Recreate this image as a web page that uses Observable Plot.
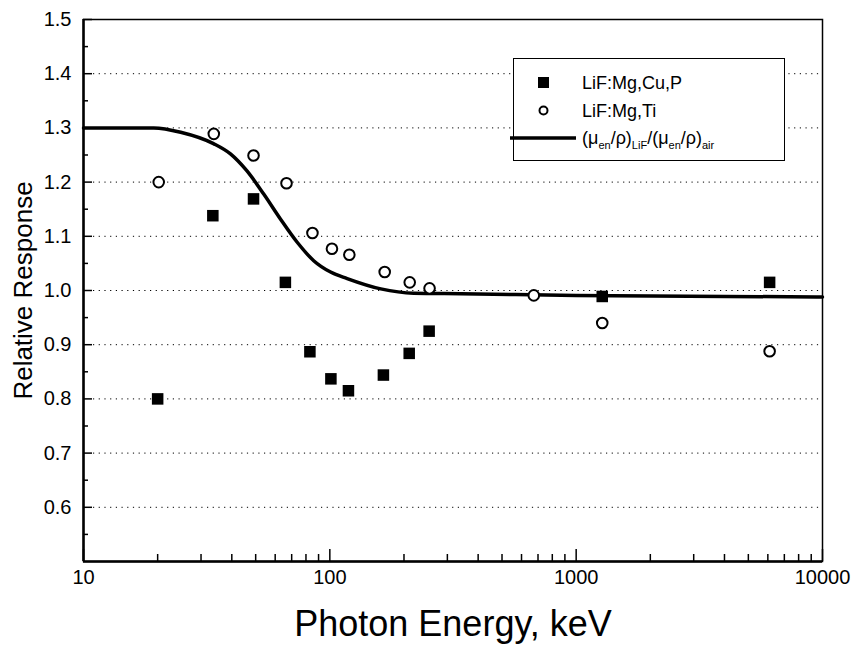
<!DOCTYPE html>
<html>
<head>
<meta charset="utf-8">
<script src="https://cdn.jsdelivr.net/npm/d3@7"></script>
<script src="https://cdn.jsdelivr.net/npm/@observablehq/plot@0.6"></script>
<style>
  body { margin: 0; background: #fff; }
  #wrap { position: relative; width: 856px; height: 655px; font-family: "Liberation Sans", Arial, sans-serif; }
  #legend { position: absolute; left: 513px; top: 58px; width: 272px; height: 103px; background: #fff; border: 1.5px solid #000; box-sizing: border-box; }
  #legend .row { position: absolute; left: 68px; font-size: 18px; line-height: 18px; color: #000; white-space: nowrap; }
  #legend svg { position: absolute; overflow: visible; }
  #legend sub { font-size: 11px; vertical-align: -5px; line-height: 0; }
</style>
</head>
<body>
<div id="wrap"></div>
<script>
// ---- data ----
const energyCuP = [20, 33.5, 49, 66, 83, 101, 119, 165, 210, 253, 1276, 6100];
const respCuP   = [0.80, 1.138, 1.169, 1.015, 0.887, 0.837, 0.815, 0.844, 0.884, 0.925, 0.989, 1.015];

const energyTi = [20.2, 33.8, 49, 66.7, 85, 102, 120, 167, 211, 254, 673, 1276, 6100];
const respTi   = [1.200, 1.289, 1.249, 1.198, 1.106, 1.077, 1.066, 1.034, 1.015, 1.004, 0.991, 0.940, 0.888];

const energyCurve = [10, 19.3, 24.8, 33.7, 39.5, 46, 53.9, 63, 73.7, 86, 100.7, 117.6, 161, 219, 340, 1000, 10000];
const respCurve   = [1.30, 1.30, 1.292, 1.271, 1.252, 1.221, 1.178, 1.132, 1.089, 1.055, 1.034, 1.022, 1.003, 0.995, 0.994, 0.991, 0.988];

const yMajorTicks = [0.6, 0.7, 0.8, 0.9, 1.0, 1.1, 1.2, 1.3, 1.4, 1.5];
const yMinorTicks = [0.55, 0.65, 0.75, 0.85, 0.95, 1.05, 1.15, 1.25, 1.35, 1.45];
const yGrid = [0.6, 0.7, 0.8, 0.9, 1.0, 1.1, 1.2, 1.3, 1.4];
const xMajorTicks = [10, 100, 1000, 10000];
const xMinorTicks = [20,30,40,50,60,70,80,90,200,300,400,500,600,700,800,900,2000,3000,4000,5000,6000,7000,8000,9000];

const xTitle = "Photon Energy, keV";
const yTitle = "Relative Response";

const cup = energyCuP.map((e, i) => ({e, r: respCuP[i]}));
const ti = energyTi.map((e, i) => ({e, r: respTi[i]}));
const curve = energyCurve.map((e, i) => ({e, r: respCurve[i]}));

const chart = Plot.plot({
  width: 856,
  height: 655,
  marginLeft: 83,
  marginRight: 34,
  marginTop: 19,
  marginBottom: 94,
  style: {fontFamily: "Liberation Sans, Arial, sans-serif", background: "#fff", color: "#000"},
  x: {type: "log", domain: [10, 10000]},
  y: {domain: [0.5, 1.5]},
  marks: [
    Plot.ruleY(yGrid, {stroke: "#000", strokeWidth: 1, strokeDasharray: "1.2,4.5", insetLeft: 10}),
    Plot.line(curve, {x: "e", y: "r", stroke: "#000", strokeWidth: 3.5, curve: "monotone-x"}),
    Plot.dot(cup, {x: "e", y: "r", symbol: "square", fill: "#000", r: 6.5}),
    Plot.dot(ti, {x: "e", y: "r", symbol: "circle", fill: "#fff", stroke: "#000", strokeWidth: 2, r: 5.3}),
    // y axis: labels + inward ticks
    Plot.axisY({ticks: yMajorTicks, tickSize: 0, tickPadding: 12, tickFormat: d3.format(".1f"), fontSize: 20, label: null}),
    Plot.axisY({ticks: yMajorTicks, tickSize: 9, dx: 9, strokeWidth: 1.5, text: null, label: null}),
    Plot.axisY({ticks: yMinorTicks, tickSize: 5, dx: 5, strokeWidth: 1.5, text: null, label: null}),
    // x axis: labels + inward ticks
    Plot.axisX({ticks: xMajorTicks, tickSize: 0, tickPadding: 8, tickFormat: d3.format("d"), fontSize: 20, label: null}),
    Plot.axisX({ticks: xMajorTicks, tickSize: 12, dy: -12, strokeWidth: 1.5, text: null, label: null}),
    Plot.axisX({ticks: xMinorTicks, tickSize: 7, dy: -7, strokeWidth: 1.5, text: null, label: null}),
    Plot.frame({stroke: "#000", strokeWidth: 1.5}),
    Plot.ruleX([10], {stroke: "#000", strokeWidth: 2.5}),
    Plot.ruleY([0.5], {stroke: "#000", strokeWidth: 2.5}),
    Plot.text([xTitle], {frameAnchor: "bottom", textAnchor: "middle", dy: 74, fontSize: 36, fill: "#000"}),
    Plot.text([yTitle], {frameAnchor: "left", textAnchor: "middle", rotate: -90, dx: -60, fontSize: 26, fill: "#000"})
  ]
});

const wrap = document.getElementById("wrap");
wrap.appendChild(chart);

// legend (HTML overlay)
const legend = document.createElement("div");
legend.id = "legend";
legend.innerHTML = `
  <svg style="left:24px;top:18px" width="12" height="12"><rect x="0" y="0" width="11" height="11" fill="#000"/></svg>
  <div class="row" style="top:15px">LiF:Mg,Cu,P</div>
  <svg style="left:24px;top:46px" width="12" height="12"><circle cx="5.5" cy="5.5" r="4" fill="#fff" stroke="#000" stroke-width="2"/></svg>
  <div class="row" style="top:43px">LiF:Mg,Ti</div>
  <svg style="left:-4px;top:76px" width="70" height="6"><line x1="0" y1="3" x2="66" y2="3" stroke="#000" stroke-width="3.5"/></svg>
  <div class="row" style="top:70px">(μ<sub>en</sub>/ρ)<sub>LiF</sub>/(μ<sub>en</sub>/ρ)<sub>air</sub></div>
`;
wrap.appendChild(legend);
</script>
</body>
</html>
